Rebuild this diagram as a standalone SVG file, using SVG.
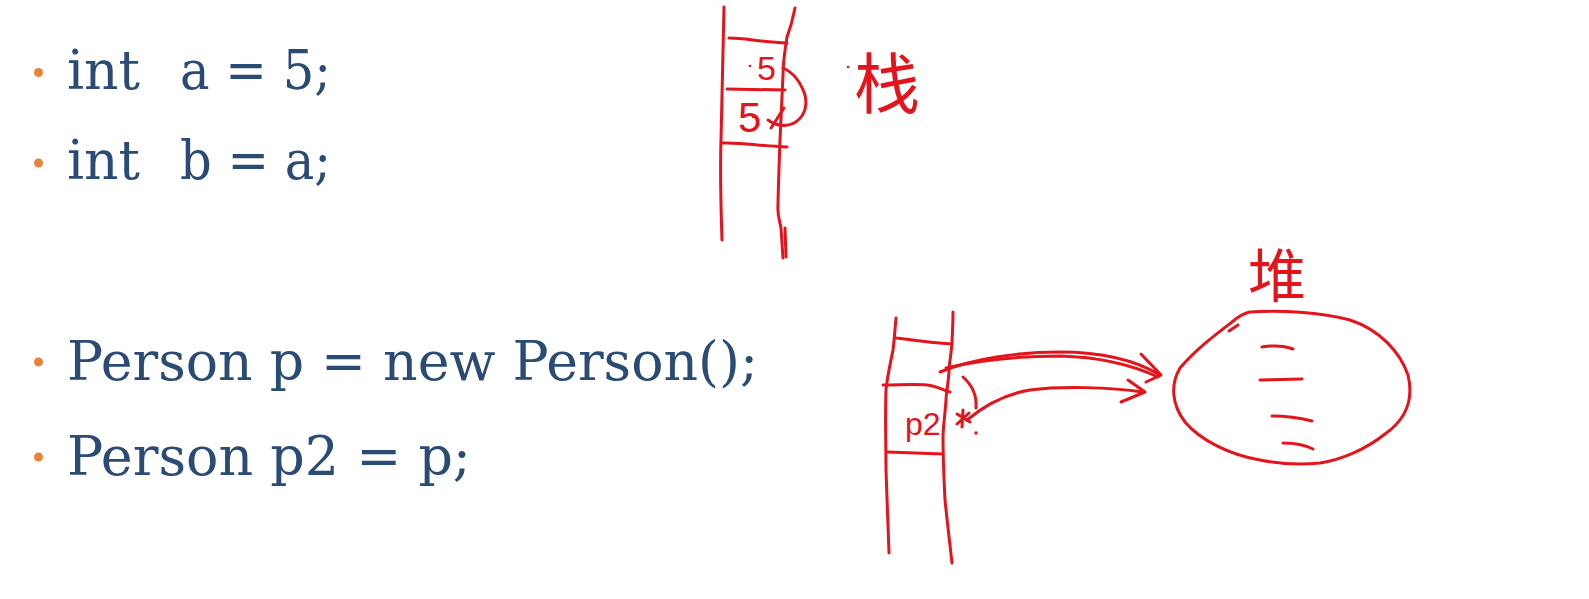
<svg xmlns="http://www.w3.org/2000/svg" width="1589" height="599" viewBox="0 0 1589 599">
<style>
.code{font-family:"DejaVu Serif","Liberation Serif",serif;font-size:54px;fill:#2a4b74}
.bul{fill:#e8833a}
.ink{fill:none;stroke:#e3141b;stroke-width:3;stroke-linecap:round;stroke-linejoin:round}
.hand{font-family:"Liberation Sans",sans-serif;fill:#e3141b}
.cjk{font-family:"Noto Sans CJK SC",sans-serif;fill:#e3141b;text-anchor:middle}
.dot{fill:#e3141b}
</style>
<rect width="1589" height="599" fill="#ffffff"/>
<g id="line1">
<circle class="bul" cx="38.5" cy="72.5" r="4.5"/>
<text class="code" x="67" y="89" textLength="73" lengthAdjust="spacingAndGlyphs">int</text>
<text class="code" x="180" y="89" textLength="151" lengthAdjust="spacingAndGlyphs">a = 5;</text>
</g>
<g id="line2">
<circle class="bul" cx="38.5" cy="163" r="4.5"/>
<text class="code" x="67" y="179" textLength="73" lengthAdjust="spacingAndGlyphs">int</text>
<text class="code" x="180" y="179" textLength="151" lengthAdjust="spacingAndGlyphs">b = a;</text>
</g>
<g id="line3">
<circle class="bul" cx="38.5" cy="362" r="4.5"/>
<text class="code" x="67" y="380" textLength="691" lengthAdjust="spacingAndGlyphs">Person p = new Person();</text>
</g>
<g id="line4">
<circle class="bul" cx="38.5" cy="457" r="4.5"/>
<text class="code" x="67" y="475" textLength="404" lengthAdjust="spacingAndGlyphs">Person p2 = p;</text>
</g>
<g id="stack1">
<path class="ink" d="M724,7 C723,60 722,110 721,140 C720,170 721,210 722,240"/>
<path class="ink" d="M795,8 L791,25 L787,37 C785,50 783,62 783,75 C782,100 781,120 780,140 C779,170 778,195 778,205 C777,215 780,222 781,228 L783,258"/>
<path class="ink" d="M785,228 L786,257"/>
<path class="ink" d="M729,38 C745,38 760,42 787,43"/>
<path class="ink" d="M727,89 L785,90"/>
<path class="ink" d="M722,143 C740,142 760,146 787,147"/>
<circle class="dot" cx="750" cy="66" r="1.3"/>
<text class="hand" x="757" y="80" font-size="34">5</text>
<circle class="dot" cx="753" cy="117" r="1.3"/>
<text class="hand" x="738" y="132" font-size="42">5</text>
<path class="ink" d="M783,68 C792,72 800,80 805,95 C808,108 803,118 794,123 C786,127 776,126 768,120"/>
<path class="ink" d="M784,108 L771,128"/>
<circle class="dot" cx="848" cy="67" r="1.3"/>
<text class="cjk" x="887" y="108" font-size="66">栈</text>
</g>
<g id="stack2">
<path class="ink" d="M896,318 C895,330 894,342 893,350 C890,365 887,378 886,390 C885,420 886,450 886,470 C887,500 888,530 889,553"/>
<path class="ink" d="M953,312 C953,325 952,340 952,343 C951,355 949,365 949,372 C948,385 946,395 946,400 C945,415 943,428 943,437 C943,460 944,480 945,500 C947,520 950,545 952,563"/>
<path class="ink" d="M895,338 C910,339 920,342 952,344"/>
<path class="ink" d="M883,385 C900,385 915,384 927,385 C937,386 945,391 950,392"/>
<path class="ink" d="M887,452 L943,454"/>
<text class="hand" x="905" y="435" font-size="32">p2</text>
</g>
<g id="heap">
<text class="cjk" x="1277" y="297" font-size="58">堆</text>
<path class="ink" d="M1250,312 C1280,310 1320,312 1350,320 C1380,330 1400,352 1408,375 C1414,400 1405,420 1385,434 C1365,450 1340,460 1320,463 C1300,465 1280,464 1260,460 C1230,455 1200,440 1185,422 C1172,405 1170,385 1180,368 C1195,350 1215,335 1232,322 C1240,315 1245,313 1250,312 Z"/>
<path class="ink" d="M1229,331 L1238,325"/>
<path class="ink" d="M1262,347 C1275,345 1285,346 1293,349"/>
<path class="ink" d="M1260,380 L1302,379"/>
<path class="ink" d="M1272,416 C1285,416 1300,418 1312,421"/>
<path class="ink" d="M1283,443 C1295,443 1305,445 1313,449"/>
</g>
<g id="connectors">
<path class="ink" d="M940,372 C975,358 1020,352 1060,352 C1100,352 1135,360 1160,375"/>
<path class="ink" d="M946,368 C980,360 1020,356 1060,356 C1100,357 1130,364 1158,377"/>
<path class="ink" d="M1141,354 L1161,375 L1146,382"/>
<path class="ink" d="M1143,392 C1110,387 1060,386 1030,390 C1005,394 985,405 967,420"/>
<path class="ink" d="M1128,380 L1145,392 L1121,402"/>
<path class="ink" d="M957,414 L970,422 M963,410 L962,427 M957,424 L969,413"/>
<path class="ink" d="M963,377 C972,385 977,395 976,408"/>
<circle class="dot" cx="976" cy="433" r="1.8"/>
</g>
</svg>
